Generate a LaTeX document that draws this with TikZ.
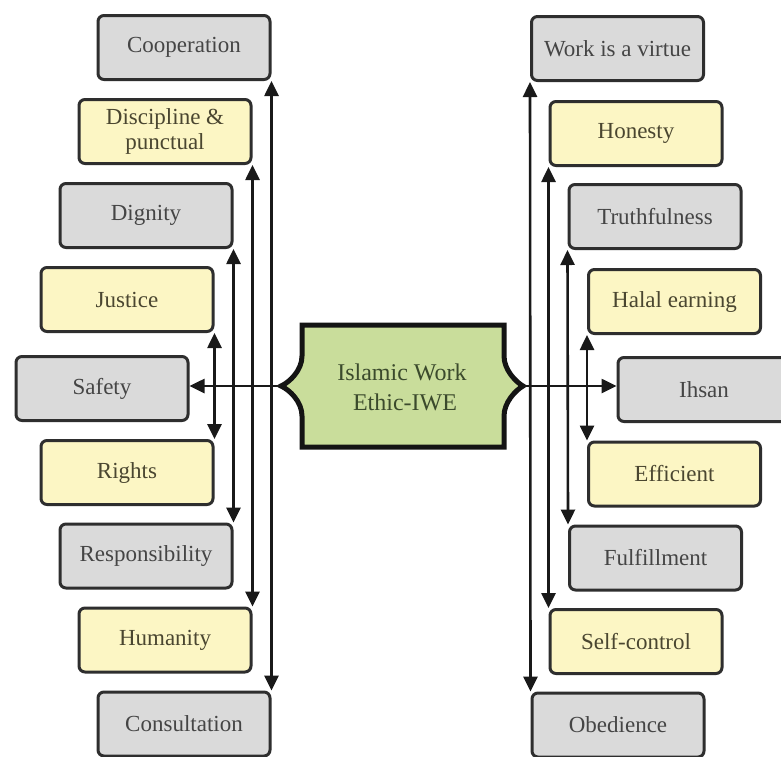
\documentclass[tikz,border=0pt]{standalone}
\usepackage{fontspec}
\setmainfont{Liberation Serif}
\usetikzlibrary{arrows.meta}
\definecolor{boxgray}{HTML}{DADADA}
\definecolor{boxyellow}{HTML}{FCF6C4}
\definecolor{boxline}{HTML}{2E2E2E}
\definecolor{iwegreen}{HTML}{C9DD9B}
\definecolor{txtgray}{HTML}{454545}
\definecolor{txtolive}{HTML}{4A4630}
\definecolor{txtgreen}{HTML}{3B4A2C}
\tikzset{
  item/.style={draw=boxline, line width=3pt, rounded corners=6pt,
    minimum width=172pt, minimum height=64pt, inner sep=0pt, align=center,
    font=\fontsize{23}{25}\selectfont},
  grayitem/.style={item, fill=boxgray, text=txtgray},
  yellowitem/.style={item, fill=boxyellow, text=txtolive},
  link/.style={line width=2.6pt, draw=black!90},
  tipa/.style={-{Triangle[width=14pt,length=15pt]}},
  tipb/.style={{Triangle[width=14pt,length=15pt]}-{Triangle[width=14pt,length=15pt]}}
}
\begin{document}
\begin{tikzpicture}[x=1pt,y=-1pt]
\clip (0,0) rectangle (781,756);
\fill[white] (0,0) rectangle (781,756);
% left column
\node[grayitem]   (coop) at (184,47.5)  {Cooperation};
\node[yellowitem] (disc) at (165,131.5) {Discipline \&\\punctual};
\node[grayitem]   (dign) at (146,215.5) {Dignity};
\node[yellowitem] (just) at (127,299.5) {Justice};
\node[grayitem]   (safe) at (102,388.5) {Safety};
\node[yellowitem] (righ) at (127,472.5) {Rights};
\node[grayitem]   (resp) at (146,556)   {Responsibility};
\node[yellowitem] (huma) at (165,640)   {Humanity};
\node[grayitem]   (cons) at (184,724)   {Consultation};
% right column
\node[grayitem]   (work) at (617.5,48.5) {Work is a virtue};
\node[yellowitem] (hone) at (636,133.5)  {Honesty};
\node[grayitem]   (trut) at (655,216.5)  {Truthfulness};
\node[yellowitem] (hala) at (674.5,301.5){Halal earning};
\node[grayitem]   (ihsa) at (704,389.5)  {Ihsan};
\node[yellowitem] (effi) at (674.5,474)  {Efficient};
\node[grayitem]   (fulf) at (655.5,558)  {Fulfillment};
\node[yellowitem] (self) at (636,641.5)  {Self-control};
\node[grayitem]   (obed) at (618,725)    {Obedience};
% center shape
\coordinate (iwel) at (281,386);
\coordinate (iwer) at (523,386);
\draw[line width=5pt, draw=black!92, fill=iwegreen, line join=miter]
  (302,325) -- (504,325) -- (504,356)
  .. controls (504,370) and (516,382) .. (iwer)
  .. controls (516,390) and (504,402) .. (504,416)
  -- (504,447) -- (302,447) -- (302,416)
  .. controls (302,402) and (290,390) .. (iwel)
  .. controls (290,382) and (302,370) .. (302,356) -- cycle;
\node[align=center, text=txtgreen, font=\fontsize{24}{30}\selectfont]
  (iwe) at (402,387) {Islamic Work\\ \hspace*{6pt}Ethic-IWE};
% vertical connectors left
\draw[link,tipb] (coop.south east) -- (cons.north east);
\draw[link,tipb] (disc.south east) -- (huma.north east);
\draw[link,tipb] (dign.south east) -- (resp.north east);
\draw[link,tipb] (just.south east) -- (righ.north east);
% vertical connectors right
\draw[link,tipb] (work.south west) -- (obed.north west);
\draw[link,tipb] (hone.south west) -- (self.north west);
\draw[link,tipb] (trut.south west) -- (fulf.north west);
\draw[link,tipb] (hala.south west) -- (effi.north west);
% horizontal connectors
\draw[link,tipa] (iwel) -- (iwel -| safe.east);
\draw[link,tipa] (iwer) -- (iwer -| ihsa.west);
\end{tikzpicture}
\end{document}
